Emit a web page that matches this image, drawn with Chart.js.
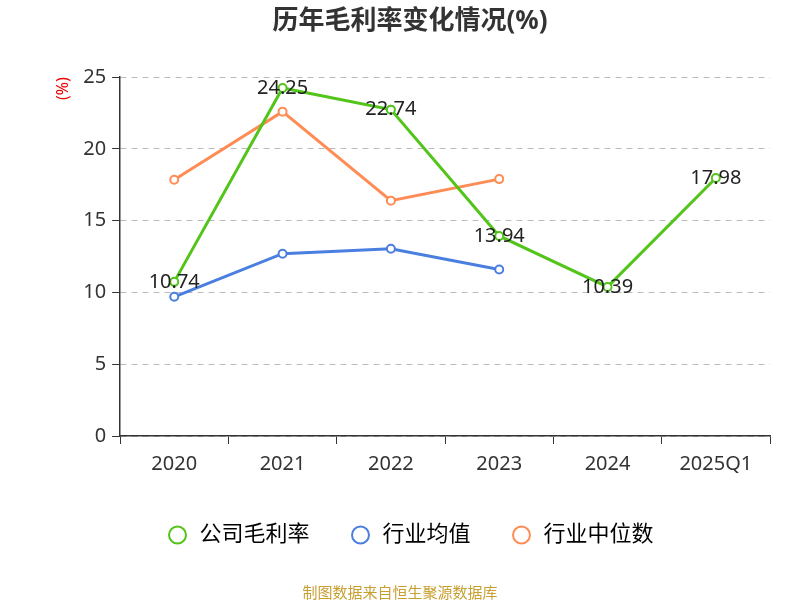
<!DOCTYPE html>
<html>
<head>
<meta charset="utf-8">
<script src="https://cdn.jsdelivr.net/npm/chart.js@4"></script>
<style>
  body { margin: 0; background: #fff; }
</style>
</head>
<body>
<canvas id="chart" width="800" height="600"></canvas>
<script>
const years = ['2020', '2021', '2022', '2023', '2024', '2025Q1'];
const companyMargin = [10.74, 24.25, 22.74, 13.94, 10.39, 17.98];
const industryAvg = [9.7, 12.7, 13.05, 11.6, null, null];
const industryMedian = [17.85, 22.6, 16.4, 17.9, null, null];
const yTicks = [0, 5, 10, 15, 20, 25];

const font = "'Noto Sans', 'Noto Sans CJK SC', sans-serif";

// Value labels on the company series
const valueLabels = {
    id: 'valueLabels',
    afterDatasetsDraw(chart) {
        const ctx = chart.ctx;
        const meta = chart.getDatasetMeta(0);
        ctx.save();
        ctx.font = '20px ' + font;
        ctx.fillStyle = '#222';
        ctx.textAlign = 'center';
        ctx.textBaseline = 'middle';
        meta.data.forEach((pt, i) => {
            ctx.fillText(companyMargin[i].toFixed(2), pt.x, pt.y);
        });
        ctx.restore();
    }
};

// Footer source text
const footer = {
    id: 'footer',
    afterDraw(chart) {
        const ctx = chart.ctx;
        ctx.save();
        ctx.font = '15px ' + font;
        ctx.fillStyle = '#c8a032';
        ctx.textAlign = 'center';
        ctx.fillText('制图数据来自恒生聚源数据库', 400, 594);
        ctx.restore();
    }
};

function series(label, data, color) {
    return {
        label: label,
        data: data,
        borderColor: color,
        backgroundColor: '#fff',
        pointBorderColor: color,
        pointBackgroundColor: '#fff',
        pointRadius: 4,
        pointBorderWidth: 2,
        borderWidth: 3,
        tension: 0,
        spanGaps: false
    };
}

new Chart(document.getElementById('chart'), {
    type: 'line',
    data: {
        labels: years,
        datasets: [
            series('公司毛利率', companyMargin, '#52c41a'),
            series('行业均值', industryAvg, '#4a7fe0'),
            series('行业中位数', industryMedian, '#ff8c55')
        ]
    },
    plugins: [valueLabels, footer],
    options: {
        responsive: false,
        animation: false,
        layout: { padding: { left: 50, right: 30, top: 6, bottom: 44 } },
        plugins: {
            title: {
                display: true,
                text: '历年毛利率变化情况(%)',
                font: { size: 26, weight: 'bold', family: font },
                color: '#333',
                padding: { top: 0, bottom: 40 }
            },
            legend: {
                position: 'bottom',
                labels: {
                    usePointStyle: true,
                    pointStyle: 'circle',
                    boxHeight: 12,
                    font: { size: 22, family: font },
                    color: '#333',
                    padding: 40,
                    generateLabels(chart) {
                        return chart.data.datasets.map((d, i) => ({
                            text: d.label,
                            strokeStyle: d.borderColor,
                            fillStyle: '#fff',
                            lineWidth: 2,
                            pointStyle: 'circle',
                            datasetIndex: i
                        }));
                    }
                }
            },
            tooltip: { enabled: false }
        },
        scales: {
            x: {
                offset: true,
                grid: { display: true, drawOnChartArea: false, drawTicks: true, tickLength: 8, tickColor: '#333', offset: true },
                border: { color: '#333', width: 1.5 },
                ticks: { font: { size: 20, family: font }, color: '#333', padding: 8, maxRotation: 0 }
            },
            y: {
                min: 0,
                max: 25,
                afterBuildTicks(axis) { axis.ticks = yTicks.map(v => ({ value: v })); },
                grid: { color: '#bbb', drawTicks: true, tickLength: 8, tickColor: '#333' },
                border: { display: true, color: '#333', width: 1.5, dash: [6, 5] },
                ticks: { font: { size: 20, family: font }, color: '#333', padding: 6 },
                title: {
                    display: true,
                    text: '(%)',
                    align: 'end',
                    color: '#e00',
                    font: { size: 16, family: font }
                }
            }
        }
    }
});
</script>
</body>
</html>
